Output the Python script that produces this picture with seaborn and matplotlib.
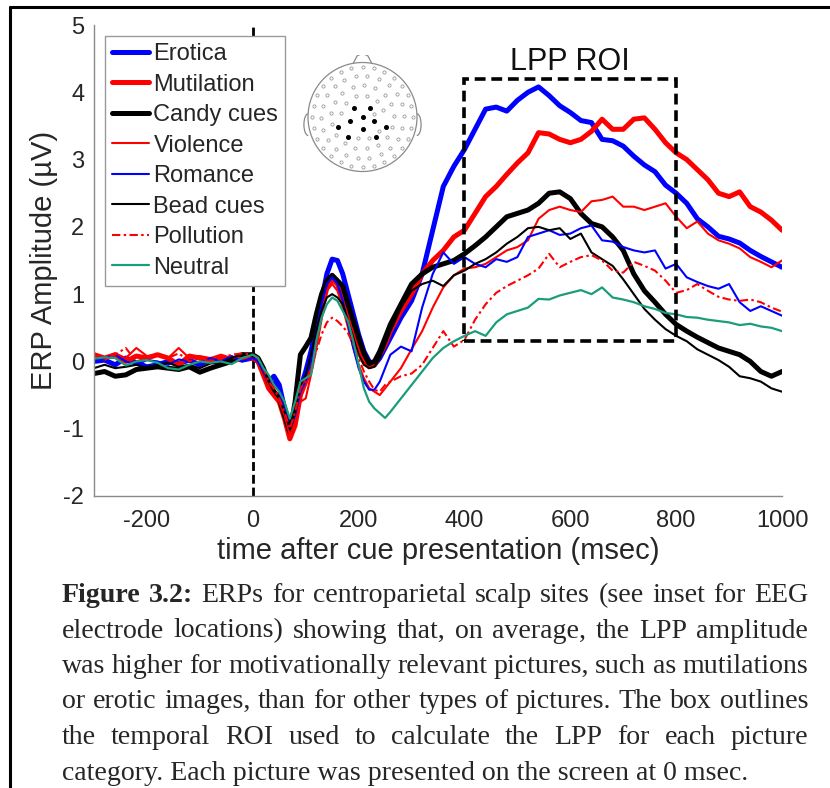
import numpy as np
import pandas as pd
import matplotlib
matplotlib.use("Agg")
import matplotlib.pyplot as plt
import seaborn as sns
from matplotlib.lines import Line2D
from matplotlib.patches import Circle, Arc, Rectangle

# ---------------- data ----------------
time_ms = list(range(-300, 0, 20)) + list(range(0, 270, 10)) + list(range(280, 1001, 20))

erotica = [0.0, 0.02, -0.05, 0.05, -0.02, -0.08, -0.05, 0.0, -0.03, 0.02, -0.05, 0.03, 0.0, 0.05, 0.02,
           0.05, 0.0, -0.15, -0.3, -0.22, -0.35, -0.7, -1.0, -0.8, -0.4, -0.15, 0.15, 0.5, 0.9, 1.3, 1.52,
           1.5, 1.3, 1.0, 0.7, 0.4, 0.15, 0.0, -0.05, 0.05, 0.2, 0.35,
           0.65, 0.9, 1.3, 1.95, 2.6, 2.9, 3.15, 3.45, 3.75, 3.78, 3.72, 3.88, 4.0, 4.08, 3.95, 3.8, 3.7,
           3.58, 3.55, 3.3, 3.28, 3.2, 3.05, 2.92, 2.82, 2.62, 2.5, 2.35, 2.12, 2.0, 1.86, 1.82, 1.76,
           1.65, 1.56, 1.48, 1.4]
mutilation = [0.1, 0.05, 0.1, 0.0, 0.08, 0.05, 0.1, 0.05, -0.05, 0.08, 0.05, 0.0, 0.05, 0.0, 0.05,
              0.05, 0.0, -0.2, -0.4, -0.5, -0.6, -0.85, -1.15, -0.95, -0.5, -0.3, -0.1, 0.3, 0.75, 1.1, 1.22,
              1.15, 0.95, 0.7, 0.45, 0.2, 0.0, -0.08, -0.05, 0.1, 0.25, 0.45,
              0.75, 1.0, 1.3, 1.5, 1.65, 1.85, 1.95, 2.2, 2.45, 2.6, 2.78, 2.95, 3.1, 3.4, 3.38, 3.3, 3.25,
              3.3, 3.42, 3.6, 3.45, 3.45, 3.6, 3.62, 3.45, 3.25, 3.1, 3.0, 2.85, 2.7, 2.5, 2.45, 2.52,
              2.3, 2.22, 2.1, 1.95]
candy = [-0.18, -0.15, -0.22, -0.2, -0.12, -0.1, -0.08, -0.1, -0.12, -0.08, -0.16, -0.1, -0.05, 0.0, 0.1,
         0.1, 0.05, -0.1, -0.3, -0.45, -0.55, -0.8, -1.05, -0.6, 0.1, 0.22, 0.35, 0.7, 1.0, 1.2, 1.28,
         1.2, 1.12, 0.85, 0.6, 0.35, 0.12, -0.03, 0.0, 0.15, 0.35, 0.55,
         0.85, 1.15, 1.3, 1.4, 1.45, 1.5, 1.6, 1.72, 1.85, 2.0, 2.15, 2.2, 2.25, 2.35, 2.5, 2.52, 2.42,
         2.2, 2.05, 2.0, 1.85, 1.65, 1.3, 1.05, 0.88, 0.7, 0.55, 0.45, 0.36, 0.28, 0.2, 0.15, 0.1,
         0.0, -0.15, -0.22, -0.15]
violence = [0.1, 0.05, 0.12, 0.05, 0.2, 0.08, 0.1, 0.05, 0.2, 0.05, 0.08, 0.05, 0.1, 0.05, 0.05,
            0.08, 0.02, -0.15, -0.35, -0.5, -0.6, -0.8, -1.1, -0.9, -0.6, -0.55, -0.2, 0.3, 0.75, 1.05, 1.15,
            1.05, 0.8, 0.5, 0.2, -0.05, -0.25, -0.4, -0.45, -0.5, -0.4, -0.3,
            -0.1, 0.18, 0.45, 0.8, 1.1, 1.28, 1.38, 1.4, 1.45, 1.55, 1.65, 1.7, 1.8, 2.12, 2.25, 2.3, 2.25,
            2.22, 2.38, 2.4, 2.45, 2.3, 2.3, 2.25, 2.3, 2.35, 2.15, 1.98, 2.08, 1.9, 1.8, 1.75, 1.68,
            1.55, 1.48, 1.4, 1.5]
romance = [0.0, 0.05, 0.1, 0.0, -0.05, 0.02, 0.0, -0.05, 0.03, 0.0, -0.02, 0.05, 0.0, 0.08, 0.0,
           0.05, 0.0, -0.15, -0.3, -0.3, -0.45, -0.7, -1.0, -0.8, -0.45, -0.3, 0.0, 0.45, 0.85, 1.15, 1.25,
           1.15, 0.9, 0.55, 0.2, -0.1, -0.3, -0.42, -0.42, -0.3, -0.1, 0.1,
           0.22, 0.15, 0.8, 1.3, 1.62, 1.45, 1.55, 1.45, 1.4, 1.52, 1.48, 1.55, 1.85, 1.9, 1.95, 1.88, 1.9,
           1.98, 2.02, 1.8, 1.78, 1.7, 1.65, 1.62, 1.65, 1.38, 1.45, 1.25, 1.18, 1.12, 1.08, 1.15, 0.88,
           0.75, 0.82, 0.75, 0.68]
bead = [-0.1, -0.05, -0.1, -0.08, -0.05, -0.1, -0.05, -0.02, -0.08, -0.05, -0.1, -0.03, -0.02, 0.05, 0.12,
        0.08, 0.05, -0.1, -0.3, -0.45, -0.55, -0.75, -1.0, -0.75, -0.35, -0.2, 0.1, 0.45, 0.75, 0.95, 1.0,
        0.95, 0.85, 0.6, 0.35, 0.1, -0.05, -0.1, -0.08, 0.05, 0.25, 0.45,
        0.8, 1.05, 1.15, 1.2, 1.12, 1.28, 1.35, 1.45, 1.52, 1.62, 1.75, 1.85, 1.98, 2.0, 1.95, 1.98, 1.82,
        1.9, 1.62, 1.52, 1.42, 1.22, 1.0, 0.78, 0.62, 0.48, 0.38, 0.3, 0.18, 0.1, 0.02, -0.08, -0.22,
        -0.25, -0.3, -0.4, -0.45]
pollution = [0.12, 0.05, 0.1, 0.2, 0.0, 0.05, 0.1, 0.05, 0.12, 0.0, 0.05, 0.0, 0.05, 0.1, 0.12,
             0.1, 0.05, -0.1, -0.3, -0.4, -0.55, -0.75, -1.0, -0.75, -0.4, -0.3, -0.1, 0.15, 0.4, 0.58, 0.65,
             0.6, 0.52, 0.42, 0.25, 0.05, -0.15, -0.3, -0.42, -0.45, -0.35, -0.3,
             -0.22, -0.18, -0.05, 0.2, 0.45, 0.22, 0.32, 0.62, 0.85, 1.02, 1.12, 1.2, 1.28, 1.38, 1.6, 1.4,
             1.48, 1.55, 1.58, 1.5, 1.35, 1.32, 1.48, 1.42, 1.35, 1.2, 1.02, 1.06, 1.15, 1.05, 0.96, 0.92,
             0.9, 0.92, 0.88, 0.8, 0.74]
neutral = [0.04, 0.06, 0.05, -0.06, 0.0, 0.02, -0.02, -0.1, -0.12, -0.05, 0.0, -0.02, 0.0, -0.04, 0.05,
           0.1, 0.05, -0.1, -0.2, -0.35, -0.45, -0.6, -0.85, -0.6, -0.3, -0.25, -0.2, 0.3, 0.65, 0.85, 0.95,
           0.9, 0.75, 0.6, 0.3, -0.05, -0.4, -0.6, -0.7, -0.77, -0.84, -0.75,
           -0.55, -0.35, -0.15, 0.05, 0.2, 0.3, 0.38, 0.45, 0.38, 0.58, 0.7, 0.75, 0.8, 0.93, 0.92, 0.98,
           1.02, 1.06, 1.0, 1.1, 0.95, 0.92, 0.88, 0.82, 0.78, 0.72, 0.7, 0.66, 0.65, 0.62, 0.6, 0.58,
           0.54, 0.56, 0.52, 0.5, 0.45]

categories = ["Erotica", "Mutilation", "Candy cues", "Violence", "Romance", "Bead cues", "Pollution", "Neutral"]
x_ticks = [-200, 0, 200, 400, 600, 800, 1000]
y_ticks = [-2, -1, 0, 1, 2, 3, 4, 5]
roi_window = [400, 800]
roi_amplitude = [0.3, 4.2]

caption_lines = [
    "Figure 3.2: ERPs for centroparietal scalp sites (see inset for EEG",
    "electrode locations) showing that, on average, the LPP amplitude",
    "was higher for motivationally relevant pictures, such as mutilations",
    "or erotic images, than for other types of pictures. The box outlines",
    "the temporal ROI used to calculate the LPP for each picture",
    "category. Each picture was presented on the screen at 0 msec.",
]

# centroparietal electrodes (highlighted) in head coordinates
roi_elec_x = [-0.15, 0.14, -0.23, 0.0, 0.21, -0.45, 0.0, 0.43, -0.26, 0.24]
roi_elec_y = [0.17, 0.17, -0.07, 0.0, -0.07, -0.18, -0.22, -0.18, -0.37, -0.37]

# ---------------- style ----------------
sns.set_style("white")
plt.rcParams['font.family'] = ['Liberation Sans', 'DejaVu Sans']

W, H = 830, 788
fig = plt.figure(figsize=(W / 100, H / 100), dpi=100)
ax = fig.add_axes([94 / W, 1 - 496 / H, (782 - 94) / W, (496 - 25) / H])

teal = "#1a9d7a"
styles = {
    "Erotica": ("#0000ff", 3.6, "-"),
    "Mutilation": ("#ff0000", 3.6, "-"),
    "Candy cues": ("#000000", 3.6, "-"),
    "Violence": ("#ff0000", 1.5, "-"),
    "Romance": ("#0000ff", 1.5, "-"),
    "Bead cues": ("#000000", 1.5, "-"),
    "Pollution": ("#ff0000", 1.5, "dashdot"),
    "Neutral": (teal, 1.6, "-"),
}
values = [erotica, mutilation, candy, violence, romance, bead, pollution, neutral]

ax.axvline(0, color="k", lw=2.0, ls=(0, (3.2, 1.4)), zorder=1)

handles = []
for name, vals in zip(categories, values):
    col, lw, ls = styles[name]
    df = pd.DataFrame({"time": time_ms, "amp": vals})
    sns.lineplot(data=df, x="time", y="amp", ax=ax, color=col, linewidth=lw,
                 legend=False, sort=False, estimator=None)
    ln = ax.lines[-1]
    if ls == "dashdot":
        ln.set_dashes((4, 1.6, 1.2, 1.6))
    ln.set_label(name)
    handles.append(ln)

ax.add_patch(Rectangle((roi_window[0], roi_amplitude[0]), roi_window[1] - roi_window[0],
                       roi_amplitude[1] - roi_amplitude[0], fill=False, ec="k", lw=2.6,
                       ls=(0, (3.0, 1.6)), zorder=5))
ax.text(np.mean(roi_window), 4.33, "LPP ROI", ha="center", va="baseline", fontsize=22, color="#111111")

ax.set_xlim(-300, 1000)
ax.set_ylim(-2, 5)
ax.set_xticks(x_ticks)
ax.set_yticks(y_ticks)
ax.set_xticklabels([str(v) for v in x_ticks])
ax.set_yticklabels([str(v) for v in y_ticks])
for s in ["top", "right"]:
    ax.spines[s].set_visible(False)
for s in ["left", "bottom"]:
    ax.spines[s].set_color("#8a8a8a")
    ax.spines[s].set_linewidth(1.0)
ax.tick_params(direction="in", length=5, width=0.8, color="#8a8a8a", labelsize=17, labelcolor="#262626")
ax.tick_params(axis="x", pad=10)
ax.tick_params(axis="y", pad=7)
ax.set_xlabel("time after cue presentation (msec)", fontsize=21, color="#262626", labelpad=4)
ax.set_ylabel("ERP Amplitude (µV)", fontsize=21, color="#262626", labelpad=4)
ax.set_facecolor("white")

leg = ax.legend(handles=handles, loc="upper left", bbox_to_anchor=(105 / W, 1 - 36 / H),
                bbox_transform=fig.transFigure, frameon=True, fancybox=False, edgecolor="#9a9a9a",
                framealpha=1, fontsize=17, handlelength=1.55, handletextpad=0.2,
                labelspacing=0.36, borderpad=0.3, borderaxespad=0)
leg.get_frame().set_linewidth(1.0)
leg.set_zorder(10)

# ---------------- head inset ----------------
hcx, hcy, hr = 362.5, 117, 54.5
half = 62.5
hx = fig.add_axes([(hcx - half) / W, 1 - (hcy + half) / H, 2 * half / W, 2 * half / H])
lim = half / hr
hx.set_xlim(-lim, lim)
hx.set_ylim(-lim, lim)
hx.axis("off")
hcol = "#8a8a8a"
hx.add_patch(Circle((0, 0), 1.0, fill=False, ec=hcol, lw=0.9))
hx.plot([-0.17, -0.1, 0.0, 0.1, 0.17], [0.985, 1.12, 1.17, 1.12, 0.985], color=hcol, lw=0.9)
hx.add_patch(Arc((-0.995, -0.14), 0.16, 0.4, theta1=90, theta2=270, ec=hcol, lw=0.9))
hx.add_patch(Arc((0.995, -0.14), 0.16, 0.4, theta1=-90, theta2=90, ec=hcol, lw=0.9))

ring_radii = [0.92, 0.76, 0.58, 0.4, 0.22]
ring_counts = [28, 22, 17, 12, 7]
ring_offsets = [0.0, 0.12, 0.05, 0.2, 0.4]
gx, gy = [], []
for r, n, off in zip(ring_radii, ring_counts, ring_offsets):
    for k in range(n):
        a = off + 2 * np.pi * k / n
        px, py = r * np.sin(a), r * np.cos(a)
        if min(np.hypot(px - ex, py - ey) for ex, ey in zip(roi_elec_x, roi_elec_y)) > 0.11:
            gx.append(px)
            gy.append(py)
hx.plot(gx, gy, "o", ms=2.3, mfc="white", mec="#9a9a9a", mew=0.6, ls="none")
hx.plot(roi_elec_x, roi_elec_y, "o", ms=2.6, color="black", ls="none")

# ---------------- figure frame ----------------
fig.add_artist(Line2D([10 / W, 10 / W], [0, 1 - 7 / H], transform=fig.transFigure, color="k", lw=2.2))
fig.add_artist(Line2D([10 / W, 1], [1 - 7 / H, 1 - 7 / H], transform=fig.transFigure, color="k", lw=2.2))

# ---------------- caption (justified) ----------------
fig.canvas.draw()
renderer = fig.canvas.get_renderer()
cap_family = ["Liberation Serif", "DejaVu Serif"]
x_left, x_right = 62, 808
baselines = [602, 637.5, 673, 708.5, 744, 779.5]

probe = fig.text(0, 0, caption_lines[-1], fontsize=18, family=cap_family)
w_probe = probe.get_window_extent(renderer).width
probe.remove()
cap_fs = 18 * 686 / w_probe


def word_width(word, weight):
    t = fig.text(0, 0, word, fontsize=cap_fs, family=cap_family, weight=weight)
    w = t.get_window_extent(renderer).width
    t.remove()
    return w


for i, line in enumerate(caption_lines):
    words = line.split(" ")
    weights = ["bold" if (i == 0 and j < 2) else "normal" for j in range(len(words))]
    y = 1 - baselines[i] / H
    if i == len(caption_lines) - 1:
        fig.text(x_left / W, y, line, fontsize=cap_fs, family=cap_family, va="baseline", ha="left")
        continue
    widths = [word_width(w, wt) for w, wt in zip(words, weights)]
    gap = (x_right - x_left - sum(widths)) / (len(words) - 1)
    x = x_left
    for w, wt, wd in zip(words, weights, widths):
        fig.text(x / W, y, w, fontsize=cap_fs, family=cap_family, weight=wt, va="baseline", ha="left")
        x += wd + gap

fig.savefig("out.png", dpi=100)
